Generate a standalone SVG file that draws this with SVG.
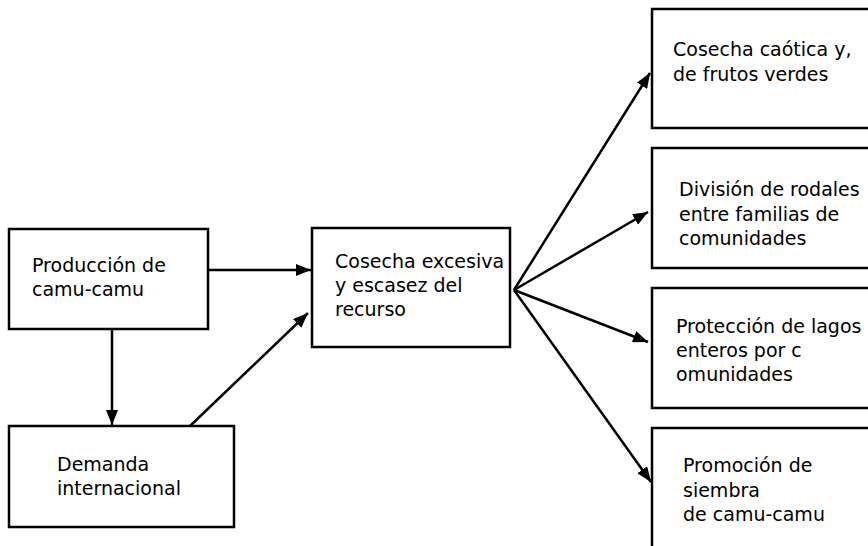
<svg xmlns="http://www.w3.org/2000/svg" width="868" height="546" viewBox="0 0 868 546">
  <style>
    .box { fill: #ffffff; stroke: #000000; stroke-width: 2.5; }
    .lbl { font-family: "DejaVu Sans", Verdana, sans-serif; font-size: 19px; fill: #000000; }
    .link { stroke: #000000; stroke-width: 2.5; fill: none; marker-end: url(#arrow); }
  </style>
  <defs>
    <marker id="arrow" markerUnits="userSpaceOnUse" markerWidth="16" markerHeight="12" refX="15" refY="6" orient="auto">
      <path d="M0,0 L15,6 L0,12 z" fill="#000000"/>
    </marker>
  </defs>
  <rect width="868" height="546" fill="#ffffff"/>

  <g id="produccion">
    <rect class="box" x="9" y="229" width="199" height="100"/>
    <text class="lbl" x="32" y="272">Producción de</text>
    <text class="lbl" x="32" y="296">camu-camu</text>
  </g>

  <g id="demanda">
    <rect class="box" x="9" y="426" width="225" height="101"/>
    <text class="lbl" x="57" y="471">Demanda</text>
    <text class="lbl" x="57" y="495">internacional</text>
  </g>

  <g id="cosecha-excesiva">
    <rect class="box" x="312" y="228" width="198" height="119"/>
    <text class="lbl" x="335" y="268">Cosecha excesiva</text>
    <text class="lbl" x="335" y="292">y escasez del</text>
    <text class="lbl" x="335" y="316">recurso</text>
  </g>

  <g id="cosecha-caotica">
    <rect class="box" x="652" y="9" width="230" height="119"/>
    <text class="lbl" x="673" y="56">Cosecha caótica y,</text>
    <text class="lbl" x="673" y="81">de frutos verdes</text>
  </g>

  <g id="division-rodales">
    <rect class="box" x="652" y="148" width="230" height="120"/>
    <text class="lbl" x="679" y="196">División de rodales</text>
    <text class="lbl" x="679" y="221">entre familias de</text>
    <text class="lbl" x="679" y="245">comunidades</text>
  </g>

  <g id="proteccion-lagos">
    <rect class="box" x="652" y="288" width="230" height="120"/>
    <text class="lbl" x="676" y="333">Protección de lagos</text>
    <text class="lbl" x="676" y="357">enteros por c</text>
    <text class="lbl" x="676" y="381">omunidades</text>
  </g>

  <g id="promocion-siembra">
    <rect class="box" x="652" y="428" width="230" height="140"/>
    <text class="lbl" x="683" y="472">Promoción de</text>
    <text class="lbl" x="683" y="497">siembra</text>
    <text class="lbl" x="683" y="521">de camu-camu</text>
  </g>

  <g id="connectors">
    <line class="link" x1="208" y1="270" x2="311" y2="270"/>
    <line class="link" x1="112" y1="329" x2="112" y2="425"/>
    <line class="link" x1="190" y1="426" x2="308" y2="313"/>
    <line class="link" x1="514" y1="290" x2="650" y2="73"/>
    <line class="link" x1="514" y1="290" x2="648" y2="212"/>
    <line class="link" x1="514" y1="290" x2="648" y2="342"/>
    <line class="link" x1="514" y1="290" x2="651" y2="482"/>
  </g>
</svg>
